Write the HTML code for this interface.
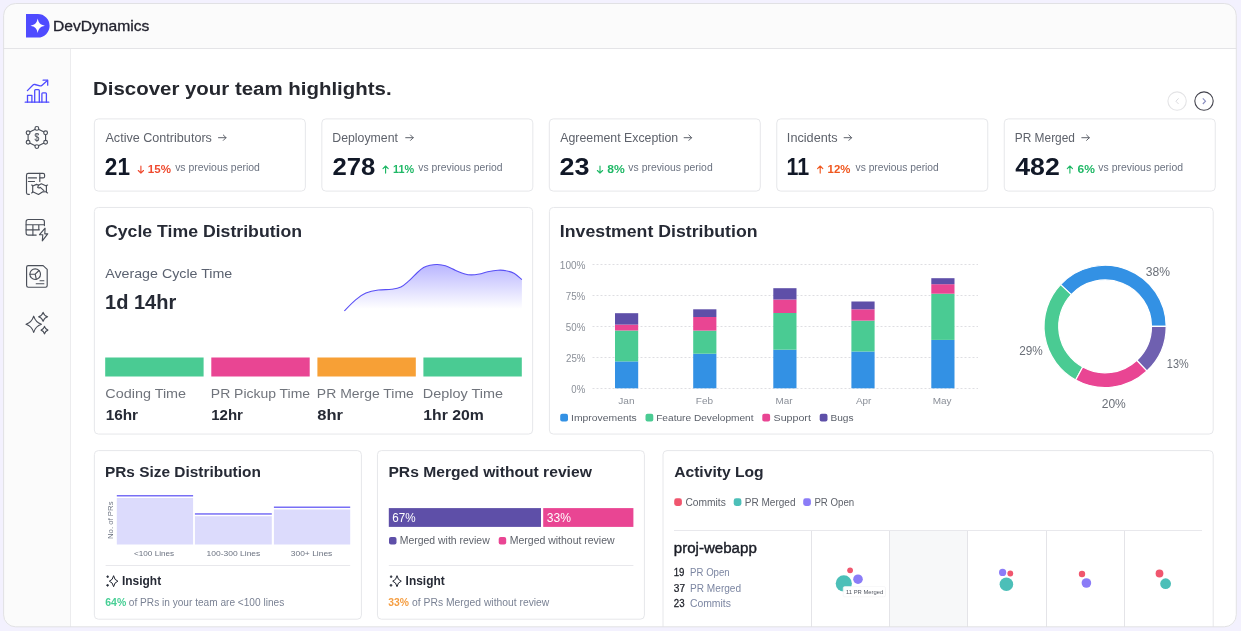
<!DOCTYPE html>
<html lang="en"><head><meta charset="utf-8"><title>DevDynamics</title>
<style>
html,body{margin:0;padding:0}
body{width:1241px;height:631px;overflow:hidden;background:#f3f1fe;position:relative;font-family:"Liberation Sans",sans-serif}
.app{position:absolute;left:0;top:0;width:1241px;height:631px;background:#fbfbfb;clip-path:inset(3.4px 4.5px 4px 3.4px round 12px)}
.mainbg{position:absolute;left:71px;top:49px;width:1170px;height:582px;background:#fff}
.hline{position:absolute;left:0;top:48px;width:1241px;height:1px;background:#e4e4e7}
.vline{position:absolute;left:70px;top:49px;width:1px;height:582px;background:#ececee}
.gfx{position:absolute;left:0;top:0}
.t{position:absolute;white-space:nowrap;line-height:1;margin:0;padding:0;transform-origin:0 0}
.txt text{font-family:"Liberation Sans",sans-serif;white-space:pre}
</style></head><body>
<div class="app">
<div class="mainbg"></div>
<div class="hline"></div>
<div class="vline"></div>


<svg class="gfx" width="1241" height="631" viewBox="0 0 1241 631">
<defs>
<linearGradient id="ag" x1="0" y1="262" x2="0" y2="309" gradientUnits="userSpaceOnUse">
<stop offset="0" stop-color="#4f46ff" stop-opacity="0.42"/>
<stop offset="1" stop-color="#4f46ff" stop-opacity="0"/>
</linearGradient>
</defs>
<rect x="94.35" y="118.9" width="211.00" height="72.20" rx="4" fill="#fff" stroke="#e6e7ea" stroke-width="1"/>
<rect x="321.83" y="118.9" width="211.00" height="72.20" rx="4" fill="#fff" stroke="#e6e7ea" stroke-width="1"/>
<rect x="549.3" y="118.9" width="211.00" height="72.20" rx="4" fill="#fff" stroke="#e6e7ea" stroke-width="1"/>
<rect x="776.78" y="118.9" width="211.00" height="72.20" rx="4" fill="#fff" stroke="#e6e7ea" stroke-width="1"/>
<rect x="1004.25" y="118.9" width="211.00" height="72.20" rx="4" fill="#fff" stroke="#e6e7ea" stroke-width="1"/>
<rect x="94.35" y="207.45" width="438.30" height="226.60" rx="4" fill="#fff" stroke="#e6e7ea" stroke-width="1"/>
<rect x="549.4" y="207.45" width="663.80" height="226.60" rx="4" fill="#fff" stroke="#e6e7ea" stroke-width="1"/>
<rect x="94.35" y="450.6" width="267.05" height="168.60" rx="4" fill="#fff" stroke="#e6e7ea" stroke-width="1"/>
<rect x="377.45" y="450.6" width="266.95" height="168.60" rx="4" fill="#fff" stroke="#e6e7ea" stroke-width="1"/>
<rect x="663" y="450.6" width="550.20" height="209.40" rx="4" fill="#fff" stroke="#e6e7ea" stroke-width="1"/>

<!-- LOGO -->
<path d="M26 14 H37.8 A11.8 11.8 0 0 1 37.8 37.6 H26 Z" fill="#4f4bff"/>
<path d="M37.7 18.5 C38.6 23 40.4 24.8 44.9 25.7 C40.4 26.6 38.6 28.4 37.7 32.9 C36.8 28.4 35 26.6 30.5 25.7 C35 24.8 36.8 23 37.7 18.5 Z" fill="#fff"/>
<g fill="none" stroke="#4f4bff" stroke-width="1.3" stroke-linecap="round" stroke-linejoin="round"><path d="M25.2 102.2 H48.8"/><path d="M27.5 102.2 V95.3 H31.9 V102.2"/><path d="M34.7 102.2 V90.6 Q34.7 89.7 35.6 89.7 H38.4 Q39.3 89.7 39.3 90.6 V102.2"/><path d="M41.9 102.2 V93.7 Q41.9 92.8 42.8 92.8 H45.5 Q46.4 92.8 46.4 93.7 V102.2"/><path d="M27.4 90.6 L33 85 Q33.8 84.2 34.9 84.5 L40 85.9 Q41 86.1 41.8 85.4 L47.4 80.4"/><path d="M43.1 80.2 H47.7 V85.2"/></g>
<g fill="none" stroke="#4a4f59" stroke-width="1.15" stroke-linecap="round" stroke-linejoin="round"><path d="M36.85 128.4 L45.6 132.8 L45.6 142.2 L36.85 146.6 L28.1 142.2 L28.1 132.8 Z"/><circle cx="36.85" cy="128.4" r="1.9" fill="#fbfbfb"/><circle cx="45.6" cy="132.8" r="1.9" fill="#fbfbfb"/><circle cx="45.6" cy="142.2" r="1.9" fill="#fbfbfb"/><circle cx="36.85" cy="146.6" r="1.9" fill="#fbfbfb"/><circle cx="28.1" cy="142.2" r="1.9" fill="#fbfbfb"/><circle cx="28.1" cy="132.8" r="1.9" fill="#fbfbfb"/></g>
<text transform="translate(36.9,141.4) scale(0.85,1)" font-size="10" text-anchor="middle" fill="#4a4f59" font-family="Liberation Sans,sans-serif" stroke="#4a4f59" stroke-width="0.2">$</text>
<g fill="none" stroke="#4a4f59" stroke-width="1.15" stroke-linecap="round" stroke-linejoin="round"><path d="M29.4 194.3 H28 Q26.5 194.3 26.5 192.8 V175.2 Q26.5 173.4 28.3 173.4 H43 Q44.6 173.4 44.6 175 V176.4 Q44.6 177.9 43.1 177.9 H39.8"/><path d="M39.8 173.4 V181.5"/><path d="M28.4 177.9 H36.5 M28.4 181.5 H34.5"/><path d="M31.6 185 L32.7 185.6 V192.3 L31.6 192.9"/><path d="M47.6 185 L46.4 185.6 V192.3 L47.6 192.9"/><path d="M32.7 186 L36.6 184.4 L38.6 185.2 L41.3 183.8 L46.4 186"/><path d="M32.7 191.8 L38.5 194.4 L42.4 191.9 L46.4 191.8"/><path d="M38.6 185.2 L37.6 187.4 Q38.9 188.6 40.3 187.3 L43.9 190.6"/></g>
<g fill="none" stroke="#4a4f59" stroke-width="1.15" stroke-linecap="round" stroke-linejoin="round"><path d="M44.4 225.6 V221.7 Q44.4 219.5 42.2 219.5 H28.3 Q26.1 219.5 26.1 221.7 V232.9 Q26.1 235.1 28.3 235.1 H36.2"/><path d="M26.1 224.7 H44.4 M26.1 229.8 H39.4 M32.9 224.7 V235.1 M38.8 224.7 V229.8"/><path d="M45.1 228.2 L39.5 234.7 H42.8 L42.3 240.8 L47.7 233.8 H44.8 Z"/></g>
<g fill="none" stroke="#4a4f59" stroke-width="1.15" stroke-linecap="round" stroke-linejoin="round"><path d="M28.3 265.6 H43.1 L47.2 269.4 V285.6 Q47.2 287.2 45.6 287.2 H28.3 Q26.6 287.2 26.6 285.6 V267.2 Q26.6 265.6 28.3 265.6 Z"/><circle cx="35.2" cy="274.2" r="5.3"/><path d="M29.9 274.2 H35.2 L39 270.5 M35.2 274.2 L36.3 279.3"/><path d="M40 280.7 H43.9 M36.2 283.7 H43.9"/></g>
<g fill="none" stroke="#4a4f59" stroke-width="1.15" stroke-linejoin="round"><path d="M33.7 316.2 Q35.55 322.36 41.400000000000006 324.3 Q35.55 326.24 33.7 332.40000000000003 Q31.85 326.24 26.000000000000004 324.3 Q31.85 322.36 33.7 316.2 Z"/><path d="M43.1 312.3 Q44.18 315.72 47.6 316.8 Q44.18 317.88 43.1 321.3 Q42.02 317.88 38.6 316.8 Q42.02 315.72 43.1 312.3 Z"/><path d="M44.5 326.3 Q45.32 329.19 47.9 330.1 Q45.32 331.01 44.5 333.90000000000003 Q43.68 331.01 41.1 330.1 Q43.68 329.19 44.5 326.3 Z"/></g>
<g stroke="#1f2430" stroke-width="1" stroke-linejoin="round"><path d="M113.6 575.7 Q114.37 580.21 117.89999999999999 581.2 Q114.37 582.19 113.6 586.7 Q112.83 582.19 109.3 581.2 Q112.83 580.21 113.6 575.7 Z" fill="none"/><path d="M107.7 575.5 Q108.06 576.34 108.9 576.7 Q108.06 577.06 107.7 577.9000000000001 Q107.34 577.06 106.5 576.7 Q107.34 576.34 107.7 575.5 Z" fill="#1f2430" stroke-width="0.5"/><path d="M107.6 584.0 Q107.99 584.91 108.89999999999999 585.3 Q107.99 585.69 107.6 586.5999999999999 Q107.21 585.69 106.3 585.3 Q107.21 584.91 107.6 584.0 Z" fill="#1f2430" stroke-width="0.5"/></g>
<g stroke="#1f2430" stroke-width="1" stroke-linejoin="round"><path d="M397.0 575.7 Q397.77 580.21 401.3 581.2 Q397.77 582.19 397.0 586.7 Q396.23 582.19 392.7 581.2 Q396.23 580.21 397.0 575.7 Z" fill="none"/><path d="M391.09999999999997 575.5 Q391.46 576.34 392.29999999999995 576.7 Q391.46 577.06 391.09999999999997 577.9000000000001 Q390.74 577.06 389.9 576.7 Q390.74 576.34 391.09999999999997 575.5 Z" fill="#1f2430" stroke-width="0.5"/><path d="M391.0 584.0 Q391.39 584.91 392.3 585.3 Q391.39 585.69 391.0 586.5999999999999 Q390.61 585.69 389.7 585.3 Q390.61 584.91 391.0 584.0 Z" fill="#1f2430" stroke-width="0.5"/></g>

<circle cx="1177.1" cy="101.1" r="9.2" fill="none" stroke="#e4e4e6" stroke-width="1.1"/>
<path d="M1178.6 98.4 L1175.9 101.2 L1178.6 104" fill="none" stroke="#dcdce0" stroke-width="1"/>
<circle cx="1204" cy="101.1" r="9.2" fill="#fff" stroke="#44444e" stroke-width="1.1"/>
<path d="M1202.8 98.4 L1205.5 101.2 L1202.8 104" fill="none" stroke="#8a8ec0" stroke-width="1.1"/>
<path d="M218.5 137.7 H226.0 M223.3 135 L226.0 137.7 L223.3 140.4" fill="none" stroke="#5e626b" stroke-width="1" stroke-linecap="round" stroke-linejoin="round"/>
<path d="M405.7 137.7 H413.2 M410.5 135 L413.2 137.7 L410.5 140.4" fill="none" stroke="#5e626b" stroke-width="1" stroke-linecap="round" stroke-linejoin="round"/>
<path d="M684.1 137.7 H691.6 M688.9 135 L691.6 137.7 L688.9 140.4" fill="none" stroke="#5e626b" stroke-width="1" stroke-linecap="round" stroke-linejoin="round"/>
<path d="M844.1 137.7 H851.6 M848.9 135 L851.6 137.7 L848.9 140.4" fill="none" stroke="#5e626b" stroke-width="1" stroke-linecap="round" stroke-linejoin="round"/>
<path d="M1081.8 137.7 H1089.3 M1086.6 135 L1089.3 137.7 L1086.6 140.4" fill="none" stroke="#5e626b" stroke-width="1" stroke-linecap="round" stroke-linejoin="round"/>
<path d="M140.9 166.1 V173.1 M138.3 170.5 L140.9 173.1 L143.5 170.5" fill="none" stroke="#ef4a2f" stroke-width="1.15" stroke-linecap="round" stroke-linejoin="round"/>
<path d="M385.6 173.1 V166 M383.0 168.6 L385.6 166 L388.2 168.6" fill="none" stroke="#1fb866" stroke-width="1.15" stroke-linecap="round" stroke-linejoin="round"/>
<path d="M600.0 166.1 V173.1 M597.4 170.5 L600.0 173.1 L602.6 170.5" fill="none" stroke="#1fb866" stroke-width="1.15" stroke-linecap="round" stroke-linejoin="round"/>
<path d="M820.2 173.1 V166 M817.6 168.6 L820.2 166 L822.8 168.6" fill="none" stroke="#f0561d" stroke-width="1.15" stroke-linecap="round" stroke-linejoin="round"/>
<path d="M1069.9 173.1 V166 M1067.3 168.6 L1069.9 166 L1072.5 168.6" fill="none" stroke="#1fb866" stroke-width="1.15" stroke-linecap="round" stroke-linejoin="round"/>

<path d="M344.3 310.9 C346.2 309.0 352.0 302.8 355.6 299.8 C359.2 296.8 362.1 294.7 365.9 293.1 C369.7 291.5 374.0 290.6 378.3 290.0 C382.6 289.4 387.8 289.8 391.6 289.3 C395.4 288.8 398.0 288.5 400.9 287.1 C403.8 285.7 406.4 283.1 409.2 280.7 C411.9 278.3 415.0 274.7 417.4 272.5 C419.8 270.3 421.5 268.8 423.6 267.6 C425.7 266.4 427.7 265.8 430.0 265.3 C432.3 264.8 434.6 264.4 437.2 264.5 C439.8 264.6 442.3 264.8 445.4 265.8 C448.5 266.8 452.4 269.0 455.7 270.4 C459.0 271.8 462.4 273.2 465.0 274.0 C467.6 274.8 468.8 274.9 471.2 274.9 C473.6 274.9 476.6 274.5 479.4 274.0 C482.1 273.5 484.6 272.3 487.7 271.7 C490.8 271.1 494.9 270.4 498.0 270.2 C501.1 270.0 503.5 270.1 506.2 270.7 C508.9 271.2 511.8 272.0 514.4 273.5 C517.0 275.0 520.6 278.5 521.9 279.5 L521.9 311 L344.3 311 Z" fill="url(#ag)"/>
<path d="M344.3 310.9 C346.2 309.0 352.0 302.8 355.6 299.8 C359.2 296.8 362.1 294.7 365.9 293.1 C369.7 291.5 374.0 290.6 378.3 290.0 C382.6 289.4 387.8 289.8 391.6 289.3 C395.4 288.8 398.0 288.5 400.9 287.1 C403.8 285.7 406.4 283.1 409.2 280.7 C411.9 278.3 415.0 274.7 417.4 272.5 C419.8 270.3 421.5 268.8 423.6 267.6 C425.7 266.4 427.7 265.8 430.0 265.3 C432.3 264.8 434.6 264.4 437.2 264.5 C439.8 264.6 442.3 264.8 445.4 265.8 C448.5 266.8 452.4 269.0 455.7 270.4 C459.0 271.8 462.4 273.2 465.0 274.0 C467.6 274.8 468.8 274.9 471.2 274.9 C473.6 274.9 476.6 274.5 479.4 274.0 C482.1 273.5 484.6 272.3 487.7 271.7 C490.8 271.1 494.9 270.4 498.0 270.2 C501.1 270.0 503.5 270.1 506.2 270.7 C508.9 271.2 511.8 272.0 514.4 273.5 C517.0 275.0 520.6 278.5 521.9 279.5" fill="none" stroke="#5a50f5" stroke-width="1.1"/>
<rect x="105.2" y="357.5" width="98.4" height="19" fill="#4acb93"/>
<rect x="211.3" y="357.5" width="98.4" height="19" fill="#e94593"/>
<rect x="317.4" y="357.5" width="98.4" height="19" fill="#f7a036"/>
<rect x="423.4" y="357.5" width="98.4" height="19" fill="#4acb93"/>

<line x1="592.5" x2="978" y1="264.5" y2="264.5" stroke="#dedee2" stroke-width="1" stroke-dasharray="2 2"/>
<line x1="592.5" x2="978" y1="295.5" y2="295.5" stroke="#dedee2" stroke-width="1" stroke-dasharray="2 2"/>
<line x1="592.5" x2="978" y1="326.5" y2="326.5" stroke="#dedee2" stroke-width="1" stroke-dasharray="2 2"/>
<line x1="592.5" x2="978" y1="357.5" y2="357.5" stroke="#dedee2" stroke-width="1" stroke-dasharray="2 2"/>
<line x1="592.5" x2="978" y1="388.5" y2="388.5" stroke="#dedee2" stroke-width="1" stroke-dasharray="2 2"/>
<rect x="615" y="361.4" width="23.2" height="26.9" fill="#3391e4"/>
<rect x="615" y="330.5" width="23.2" height="30.9" fill="#4acb93"/>
<rect x="615" y="324.6" width="23.2" height="5.9" fill="#e94593"/>
<rect x="615" y="313.2" width="23.2" height="11.4" fill="#5e4fa8"/>
<rect x="693.2" y="353.7" width="23.2" height="34.6" fill="#3391e4"/>
<rect x="693.2" y="330.6" width="23.2" height="23.1" fill="#4acb93"/>
<rect x="693.2" y="317" width="23.2" height="13.6" fill="#e94593"/>
<rect x="693.2" y="309.3" width="23.2" height="7.7" fill="#5e4fa8"/>
<rect x="773.3" y="349.7" width="23.2" height="38.6" fill="#3391e4"/>
<rect x="773.3" y="313" width="23.2" height="36.7" fill="#4acb93"/>
<rect x="773.3" y="299.5" width="23.2" height="13.5" fill="#e94593"/>
<rect x="773.3" y="288.2" width="23.2" height="11.3" fill="#5e4fa8"/>
<rect x="851.4" y="351.5" width="23.2" height="36.8" fill="#3391e4"/>
<rect x="851.4" y="320.6" width="23.2" height="30.9" fill="#4acb93"/>
<rect x="851.4" y="309.3" width="23.2" height="11.3" fill="#e94593"/>
<rect x="851.4" y="301.5" width="23.2" height="7.8" fill="#5e4fa8"/>
<rect x="931.3" y="339.9" width="23.2" height="48.4" fill="#3391e4"/>
<rect x="931.3" y="293.7" width="23.2" height="46.2" fill="#4acb93"/>
<rect x="931.3" y="284.2" width="23.2" height="9.5" fill="#e94593"/>
<rect x="931.3" y="278.2" width="23.2" height="6.0" fill="#5e4fa8"/>
<rect x="560.2" y="413.7" width="7.8" height="7.8" rx="2" fill="#3391e4"/>
<rect x="645.5" y="413.7" width="7.8" height="7.8" rx="2" fill="#4acb93"/>
<rect x="762.3" y="413.7" width="7.8" height="7.8" rx="2" fill="#e94593"/>
<rect x="819.7" y="413.7" width="7.8" height="7.8" rx="2" fill="#5e4fa8"/>

<path d="M1166.20 326.40 A61.1 61.1 0 0 0 1060.56 284.57 L1071.28 294.64 A46.4 46.4 0 0 1 1151.50 326.40 Z" fill="#3391e4" stroke="#fff" stroke-width="1.2" stroke-linejoin="round"/>
<path d="M1060.56 284.57 A61.1 61.1 0 0 0 1075.66 379.94 L1082.75 367.06 A46.4 46.4 0 0 1 1071.28 294.64 Z" fill="#4acb93" stroke="#fff" stroke-width="1.2" stroke-linejoin="round"/>
<path d="M1075.66 379.94 A61.1 61.1 0 0 0 1146.93 370.94 L1136.86 360.22 A46.4 46.4 0 0 1 1082.75 367.06 Z" fill="#e94593" stroke="#fff" stroke-width="1.2" stroke-linejoin="round"/>
<path d="M1146.93 370.94 A61.1 61.1 0 0 0 1166.20 326.40 L1151.50 326.40 A46.4 46.4 0 0 1 1136.86 360.22 Z" fill="#6f60b0" stroke="#fff" stroke-width="1.2" stroke-linejoin="round"/>

<rect x="116.8" y="498.0" width="76.3" height="46.5" fill="#dcdbfc"/>
<rect x="116.8" y="495.0" width="76.3" height="1.5" fill="#786ff5"/>
<rect x="194.9" y="516.2" width="76.9" height="28.3" fill="#dcdbfc"/>
<rect x="194.9" y="513.2" width="76.9" height="1.5" fill="#786ff5"/>
<rect x="273.9" y="509.5" width="76.3" height="35.0" fill="#dcdbfc"/>
<rect x="273.9" y="506.5" width="76.3" height="1.5" fill="#786ff5"/>
<rect x="105.6" y="565" width="244.6" height="1" fill="#e8e8ec"/>

<rect x="388.8" y="508.1" width="152.2" height="18.8" fill="#5e4fa8"/>
<rect x="543.2" y="508.1" width="90.2" height="18.8" fill="#e94593"/>
<rect x="389" y="537" width="7.5" height="7.5" rx="2" fill="#5e4fa8"/>
<rect x="498.7" y="537" width="7.5" height="7.5" rx="2" fill="#e94593"/>
<rect x="388.8" y="565" width="244.6" height="1" fill="#e8e8ec"/>

<rect x="674.2" y="498.3" width="7.7" height="7.7" rx="2.4" fill="#f0566e"/>
<rect x="733.7" y="498.3" width="7.7" height="7.7" rx="2.4" fill="#4cbfb8"/>
<rect x="803.2" y="498.3" width="7.7" height="7.7" rx="2.4" fill="#8b7cf7"/>
<rect x="890" y="531" width="77.5" height="100" fill="#f7f8f9"/>
<rect x="674" y="530" width="528" height="1" fill="#e8e8ec"/>
<rect x="811" y="531" width="1" height="100" fill="#e4e4e8"/>
<rect x="889" y="531" width="1" height="100" fill="#e4e4e8"/>
<rect x="967" y="531" width="1" height="100" fill="#e4e4e8"/>
<rect x="1046" y="531" width="1" height="100" fill="#e4e4e8"/>
<rect x="1124" y="531" width="1" height="100" fill="#e4e4e8"/>
<circle cx="843.8" cy="583.4" r="8.1" fill="#4cbfb8"/>
<circle cx="858" cy="579.2" r="4.8" fill="#8b7cf7"/>
<circle cx="850.1" cy="570.3" r="2.9" fill="#f0566e"/>
<rect x="843.2" y="586.6" width="42.3" height="10.2" rx="1.5" fill="#fff" fill-opacity="0.96" stroke="#f1f1f3" stroke-width="0.6"/>
<circle cx="1002.6" cy="572.4" r="3.6" fill="#8b7cf7"/>
<circle cx="1010.3" cy="573.5" r="2.9" fill="#f0566e"/>
<circle cx="1006.4" cy="584.2" r="6.8" fill="#4cbfb8"/>
<circle cx="1082" cy="574" r="3.2" fill="#f0566e"/>
<circle cx="1086.4" cy="583" r="4.8" fill="#8b7cf7"/>
<circle cx="1159.5" cy="573.5" r="3.9" fill="#f0566e"/>
<circle cx="1165.6" cy="583.7" r="5.4" fill="#4cbfb8"/>

</svg>
<svg class="gfx txt" width="1241" height="631" viewBox="0 0 1241 631">
<text transform="translate(52.89,31) scale(1.103,1)" font-size="14.2" fill="#23232f" stroke="#23232f" stroke-width="0.3">DevDynamics</text>
<text transform="translate(93.03,95) scale(1.076,1)" font-size="19" fill="#25272e" font-weight="700">Discover your team highlights.</text>
<text transform="translate(105.45,142) scale(1.051,1)" font-size="12" fill="#5e626b">Active Contributors</text>
<text transform="translate(104.87,175) scale(0.969,1)" font-size="23.3" fill="#111827" font-weight="700">21</text>
<text transform="translate(147.85,173) scale(1.024,1)" font-size="11.3" fill="#ef4a2f" font-weight="700">15%</text>
<text transform="translate(175.14,171) scale(1.045,1)" font-size="10" fill="#6b7280">vs previous period</text>
<text transform="translate(332.33,142) scale(1.025,1)" font-size="12" fill="#5e626b">Deployment</text>
<text transform="translate(332.44,175) scale(1.103,1)" font-size="23.3" fill="#111827" font-weight="700">278</text>
<text transform="translate(392.96,173) scale(0.961,1)" font-size="11.3" fill="#1fb866" font-weight="700">11%</text>
<text transform="translate(418.33,171) scale(1.039,1)" font-size="10" fill="#6b7280">vs previous period</text>
<text transform="translate(560.27,142) scale(1.029,1)" font-size="12" fill="#5e626b">Agreement Exception</text>
<text transform="translate(559.55,175) scale(1.158,1)" font-size="23.3" fill="#111827" font-weight="700">23</text>
<text transform="translate(607.15,173) scale(1.073,1)" font-size="11.3" fill="#1fb866" font-weight="700">8%</text>
<text transform="translate(628.36,171) scale(1.041,1)" font-size="10" fill="#6b7280">vs previous period</text>
<text transform="translate(786.87,142) scale(1.059,1)" font-size="12" fill="#5e626b">Incidents</text>
<text transform="translate(786.52,175) scale(0.920,1)" font-size="23.3" fill="#111827" font-weight="700">11</text>
<text transform="translate(827.62,173) scale(1.010,1)" font-size="11.3" fill="#f0561d" font-weight="700">12%</text>
<text transform="translate(855.52,171) scale(1.027,1)" font-size="10" fill="#6b7280">vs previous period</text>
<text transform="translate(1014.72,142) scale(0.994,1)" font-size="12" fill="#5e626b">PR Merged</text>
<text transform="translate(1015.22,175) scale(1.146,1)" font-size="23.3" fill="#111827" font-weight="700">482</text>
<text transform="translate(1077.55,173) scale(1.066,1)" font-size="11.3" fill="#1fb866" font-weight="700">6%</text>
<text transform="translate(1098.32,171) scale(1.044,1)" font-size="10" fill="#6b7280">vs previous period</text>
<text transform="translate(105.00,237) scale(1.072,1)" font-size="16.5" fill="#262a35" font-weight="700">Cycle Time Distribution</text>
<text transform="translate(559.87,237) scale(1.073,1)" font-size="16.5" fill="#262a35" font-weight="700">Investment Distribution</text>
<text transform="translate(105.19,278) scale(1.079,1)" font-size="13.2" fill="#5b6270">Average Cycle Time</text>
<text transform="translate(105.04,309)" font-size="20" fill="#262a35" font-weight="700">1d 14hr</text>
<text transform="translate(105.33,398) scale(1.067,1)" font-size="13.5" fill="#70747c">Coding Time</text>
<text transform="translate(105.64,420) scale(0.992,1)" font-size="15.5" fill="#262a35" font-weight="700">16hr</text>
<text transform="translate(210.87,398) scale(1.034,1)" font-size="13.5" fill="#70747c">PR Pickup Time</text>
<text transform="translate(211.13,420) scale(0.974,1)" font-size="15.5" fill="#262a35" font-weight="700">12hr</text>
<text transform="translate(316.87,398) scale(1.035,1)" font-size="13.5" fill="#70747c">PR Merge Time</text>
<text transform="translate(317.27,420) scale(1.068,1)" font-size="15.5" fill="#262a35" font-weight="700">8hr</text>
<text transform="translate(422.87,398) scale(1.069,1)" font-size="13.5" fill="#70747c">Deploy Time</text>
<text transform="translate(423.31,420) scale(1.019,1)" font-size="15.5" fill="#262a35" font-weight="700">1hr 20m</text>
<text transform="translate(559.81,269) scale(1.006,1)" font-size="10" fill="#8a8f98">100%</text>
<text transform="translate(565.70,300) scale(0.983,1)" font-size="10" fill="#8a8f98">75%</text>
<text transform="translate(565.80,331) scale(0.979,1)" font-size="10" fill="#8a8f98">50%</text>
<text transform="translate(565.95,362) scale(0.977,1)" font-size="10" fill="#8a8f98">25%</text>
<text transform="translate(571.32,393) scale(0.958,1)" font-size="10" fill="#8a8f98">0%</text>
<text transform="translate(618.17,404) scale(1.071,1)" font-size="9.5" fill="#8a8f98">Jan</text>
<text transform="translate(695.82,404) scale(1.052,1)" font-size="9.5" fill="#8a8f98">Feb</text>
<text transform="translate(775.55,404) scale(1.040,1)" font-size="9.5" fill="#8a8f98">Mar</text>
<text transform="translate(855.93,404) scale(1.047,1)" font-size="9.5" fill="#8a8f98">Apr</text>
<text transform="translate(932.72,404) scale(1.051,1)" font-size="9.5" fill="#8a8f98">May</text>
<text transform="translate(571.08,421) scale(1.070,1)" font-size="9.7" fill="#5a5f69">Improvements</text>
<text transform="translate(656.18,421) scale(1.046,1)" font-size="9.7" fill="#5a5f69">Feature Development</text>
<text transform="translate(773.52,421) scale(1.102,1)" font-size="9.7" fill="#5a5f69">Support</text>
<text transform="translate(830.43,421) scale(1.044,1)" font-size="9.7" fill="#5a5f69">Bugs</text>
<text transform="translate(1145.75,276) scale(1.010,1)" font-size="12" fill="#6a6f78">38%</text>
<text transform="translate(1019.20,355) scale(0.982,1)" font-size="12" fill="#6a6f78">29%</text>
<text transform="translate(1101.71,408) scale(1.005,1)" font-size="12" fill="#6a6f78">20%</text>
<text transform="translate(1166.82,368) scale(0.909,1)" font-size="12" fill="#6a6f78">13%</text>
<text transform="translate(104.94,477) scale(1.008,1)" font-size="15.3" fill="#262a35" font-weight="700">PRs Size Distribution</text>
<text transform="translate(388.41,477) scale(1.023,1)" font-size="15.3" fill="#262a35" font-weight="700">PRs Merged without review</text>
<text transform="translate(674.13,477) scale(1.023,1)" font-size="15.3" fill="#262a35" font-weight="700">Activity Log</text>
<text transform="translate(133.99,556) scale(1.090,1)" font-size="7.5" fill="#6b7280">&lt;100 Lines</text>
<text transform="translate(206.54,556) scale(1.134,1)" font-size="7.5" fill="#6b7280">100-300 Lines</text>
<text transform="translate(290.75,556) scale(1.129,1)" font-size="7.5" fill="#6b7280">300+ Lines</text>
<text transform="translate(122.00,585) scale(0.995,1)" font-size="12" fill="#262a35" font-weight="700">Insight</text>
<text transform="translate(405.60,585) scale(0.994,1)" font-size="12" fill="#262a35" font-weight="700">Insight</text>
<text transform="translate(105.22,606) scale(1.051,1)" font-size="10" fill="#47cf95" font-weight="700">64%</text>
<text transform="translate(128.87,606) scale(1.012,1)" font-size="10" fill="#7a8294">of PRs in your team are &lt;100 lines</text>
<text transform="translate(388.33,606) scale(1.037,1)" font-size="10" fill="#f59e42" font-weight="700">33%</text>
<text transform="translate(412.12,606) scale(1.035,1)" font-size="10" fill="#7a8294">of PRs Merged without review</text>
<text transform="translate(392.31,522) scale(0.973,1)" font-size="12" fill="#ffffff">67%</text>
<text transform="translate(546.81,522) scale(1.007,1)" font-size="12" fill="#ffffff">33%</text>
<text transform="translate(399.74,544) scale(1.046,1)" font-size="10" fill="#5e626b">Merged with review</text>
<text transform="translate(509.80,544) scale(1.048,1)" font-size="10" fill="#5e626b">Merged without review</text>
<text transform="translate(685.42,506) scale(1.024,1)" font-size="10" fill="#5e626b">Commits</text>
<text transform="translate(744.76,506) scale(1.004,1)" font-size="10" fill="#5e626b">PR Merged</text>
<text transform="translate(814.38,506) scale(0.968,1)" font-size="10" fill="#5e626b">PR Open</text>
<text transform="translate(673.75,553) scale(1.041,1)" font-size="14.5" fill="#1a1d26" stroke="#1a1d26" stroke-width="0.4">proj-webapp</text>
<text transform="translate(673.73,576) scale(0.969,1)" font-size="10" fill="#1a1d26" stroke="#1a1d26" stroke-width="0.25">19</text>
<text transform="translate(690.12,576) scale(0.963,1)" font-size="10" fill="#7c86a2">PR Open</text>
<text transform="translate(673.78,592) scale(1.011,1)" font-size="10" fill="#1a1d26" stroke="#1a1d26" stroke-width="0.25">37</text>
<text transform="translate(690.03,592) scale(1.010,1)" font-size="10" fill="#7c86a2">PR Merged</text>
<text transform="translate(673.83,607) scale(0.964,1)" font-size="10" fill="#1a1d26" stroke="#1a1d26" stroke-width="0.25">23</text>
<text transform="translate(689.91,607) scale(1.041,1)" font-size="10" fill="#7c86a2">Commits</text>
<text transform="translate(846.03,594) scale(1.062,1)" font-size="5.5" fill="#50555f">11 PR Merged</text>
</svg>
<span class="t" style="left:107.3px;top:538.6px;font-size:8px;color:#6b7280;transform:rotate(-90deg) scaleX(0.97)">No. of PRs</span>
</div>
<svg class="gfx" width="1241" height="631" viewBox="0 0 1241 631"><rect x="3.6" y="3.5" width="1232.7" height="623.3" rx="12" fill="none" stroke="#e1e1e4" stroke-width="1"/></svg>

</body></html>
